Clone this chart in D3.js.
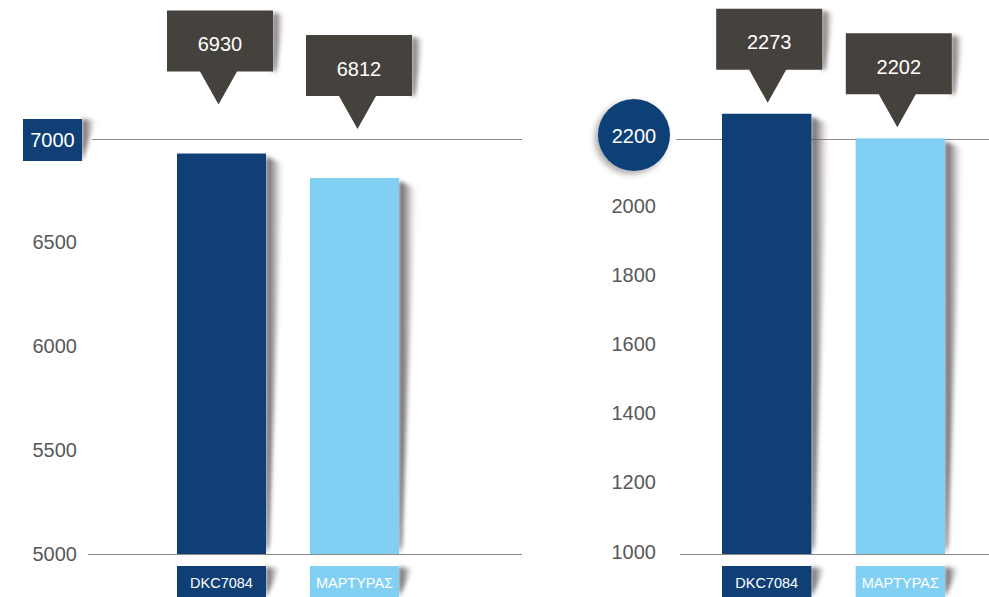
<!DOCTYPE html>
<html>
<head>
<meta charset="utf-8">
<script src="https://cdn.jsdelivr.net/npm/d3@7/dist/d3.min.js"></script>
<style>
  html, body { margin: 0; padding: 0; background: #ffffff; }
  svg { display: block; }
  text { font-family: "Liberation Sans", Arial, Helvetica, sans-serif; }
</style>
</head>
<body>
<svg id="chart" width="989" height="597"></svg>
<script>
// ---------- data ----------
const categories = ["DKC7084", "ΜΑΡΤΥΡΑΣ"];
const leftValues = [6930, 6812];
const rightValues = [2273, 2202];
const leftTicks = [5000, 5500, 6000, 6500, 7000];
const rightTicks = [1000, 1200, 1400, 1600, 1800, 2000, 2200];
const barColors = ["#103f76", "#82cff4"];

// ---------- setup ----------
const svg = d3.select("#chart");
const defs = svg.append("defs");

const g1 = defs.append("linearGradient").attr("id", "shadeGrad")
  .attr("x1", "0").attr("y1", "0").attr("x2", "1").attr("y2", "0");
g1.append("stop").attr("offset", "0").attr("stop-color", "#3d3637").attr("stop-opacity", 0.9);
g1.append("stop").attr("offset", "0.5").attr("stop-color", "#7a7071").attr("stop-opacity", 0.55);
g1.append("stop").attr("offset", "1").attr("stop-color", "#b0a8a9").attr("stop-opacity", 0);

const blur = defs.append("filter").attr("id", "blur").attr("x", "-50%").attr("y", "-20%").attr("width", "200%").attr("height", "140%");
blur.append("feGaussianBlur").attr("stdDeviation", 2.2);

const circShadow = defs.append("filter").attr("id", "circShadow").attr("x", "-50%").attr("y", "-50%").attr("width", "200%").attr("height", "200%");
circShadow.append("feDropShadow").attr("dx", -3).attr("dy", 3).attr("stdDeviation", 3)
  .attr("flood-color", "#000").attr("flood-opacity", 0.35);

const baseY = 554;
const topGridY = 139;
const pts = a => a.map(p => p.join(",")).join(" ");

function drawChart(opt) {
  const y = d3.scaleLinear().domain(opt.domain).range([baseY, topGridY]);
  const x = d3.scaleBand().domain(categories).range(opt.xRange).paddingInner(0.331).paddingOuter(0);
  const g = svg.append("g");

  // grid lines: top tick and baseline
  g.append("line").attr("x1", opt.gridX1).attr("x2", opt.gridX2)
    .attr("y1", y(opt.domain[1]) + 0.5).attr("y2", y(opt.domain[1]) + 0.5)
    .attr("stroke", "#8a8a8a").attr("stroke-width", 1);
  g.append("line").attr("x1", opt.baseX1).attr("x2", opt.gridX2)
    .attr("y1", y(opt.domain[0]) + 0.5).attr("y2", y(opt.domain[0]) + 0.5)
    .attr("stroke", "#8a8a8a").attr("stroke-width", 1);

  // axis tick labels (all but top one)
  const axis = d3.axisLeft(y).tickValues(opt.ticks.slice(0, -1)).tickSize(0).tickPadding(0).tickFormat(d3.format("d"));
  const ag = g.append("g").attr("transform", `translate(${opt.labelX},0)`).call(axis);
  ag.select(".domain").remove();
  ag.selectAll("text").attr("fill", "#58585a").attr("font-size", 20).attr("dy", opt.labelDy);

  // bar shadows
  opt.values.forEach((v, i) => {
    const xr = x(categories[i]) + x.bandwidth();
    const top = y(v);
    g.append("polygon")
      .attr("points", pts([[xr, top + 3], [xr + 17, top + 10], [xr + 3, baseY - 10], [xr, baseY]]))
      .attr("fill", "url(#shadeGrad)").attr("filter", "url(#blur)");
  });

  // bars
  g.selectAll("rect.bar").data(opt.values).join("rect").attr("class", "bar")
    .attr("x", (d, i) => x(categories[i]))
    .attr("y", d => y(d))
    .attr("width", x.bandwidth())
    .attr("height", d => baseY - y(d))
    .attr("fill", (d, i) => barColors[i]);

  // category labels under bars
  categories.forEach((c, i) => {
    const x0 = x(c), w = x.bandwidth();
    g.append("polygon")
      .attr("points", pts([[x0 + w, 567], [x0 + w + 14, 568], [x0 + w, 597]]))
      .attr("fill", "url(#shadeGrad)").attr("filter", "url(#blur)");
    g.append("rect").attr("x", x0).attr("y", 566).attr("width", w).attr("height", 35).attr("fill", barColors[i]);
    g.append("text").attr("x", x0 + w / 2).attr("y", 583).attr("dy", "0.36em")
      .attr("text-anchor", "middle").attr("fill", "#ffffff").attr("font-size", 14.5).text(c);
  });

  // callouts
  const bw = 106, bh = 61, ph = 33, phw = 18.5;
  opt.values.forEach((v, i) => {
    const cx = x(categories[i]) + x.bandwidth() / 2 + opt.tipShift[i];
    const tipY = y(v) - opt.tipOffset;
    const bBot = tipY - ph, bTop = bBot - bh;
    const bx = cx - bw / 2 + 1.5;
    g.append("polygon")
      .attr("points", pts([[bx + bw, bTop + 2], [bx + bw + 11, bTop + 4], [bx + bw + 3, bBot], [bx + bw, bBot]]))
      .attr("fill", "url(#shadeGrad)").attr("filter", "url(#blur)");
    g.append("path")
      .attr("d", `M${bx},${bTop}H${bx + bw}V${bBot}H${cx + phw}L${cx},${tipY}L${cx - phw},${bBot}H${bx}Z`)
      .attr("fill", "#45413c");
    g.append("text").attr("x", bx + bw / 2).attr("y", bTop + bh / 2 + 3).attr("dy", "0.36em")
      .attr("text-anchor", "middle").attr("fill", "#ffffff").attr("font-size", 20).text(d3.format("d")(v));
  });

  return { g, y };
}

// left chart
const L = drawChart({
  domain: [leftTicks[0], leftTicks[leftTicks.length - 1]], ticks: leftTicks, values: leftValues,
  xRange: [177, 399], gridX1: 92, baseX1: 88, gridX2: 522, labelX: 77, labelDy: "0.3em", tipOffset: 49, tipShift: [-3, 3]
});
// 7000 badge
{
  const yy = L.y(leftTicks[leftTicks.length - 1]);
  L.g.append("polygon")
    .attr("points", pts([[82, yy - 20], [96, yy - 19], [82, yy + 22]]))
    .attr("fill", "url(#shadeGrad)").attr("filter", "url(#blur)");
  L.g.append("rect").attr("x", 23).attr("y", yy - 20).attr("width", 59).attr("height", 42).attr("fill", "#103f76");
  L.g.append("text").attr("x", 52.5).attr("y", yy + 1).attr("dy", "0.36em").attr("text-anchor", "middle")
    .attr("fill", "#ffffff").attr("font-size", 20).text(leftTicks[leftTicks.length - 1]);
}

// right chart
const R = drawChart({
  domain: [rightTicks[0], rightTicks[rightTicks.length - 1]], ticks: rightTicks, values: rightValues,
  xRange: [722, 945], gridX1: 676, baseX1: 680, gridX2: 989, labelX: 656, labelDy: "0.2em", tipOffset: 11, tipShift: [1, -3]
});
// 2200 badge
{
  const yy = R.y(rightTicks[rightTicks.length - 1]);
  R.g.append("circle").attr("cx", 634).attr("cy", yy - 4).attr("r", 36).attr("fill", "#103f76").attr("filter", "url(#circShadow)");
  R.g.append("text").attr("x", 634).attr("y", yy - 3).attr("dy", "0.36em").attr("text-anchor", "middle")
    .attr("fill", "#ffffff").attr("font-size", 20).text(rightTicks[rightTicks.length - 1]);
}
</script>
</body>
</html>
